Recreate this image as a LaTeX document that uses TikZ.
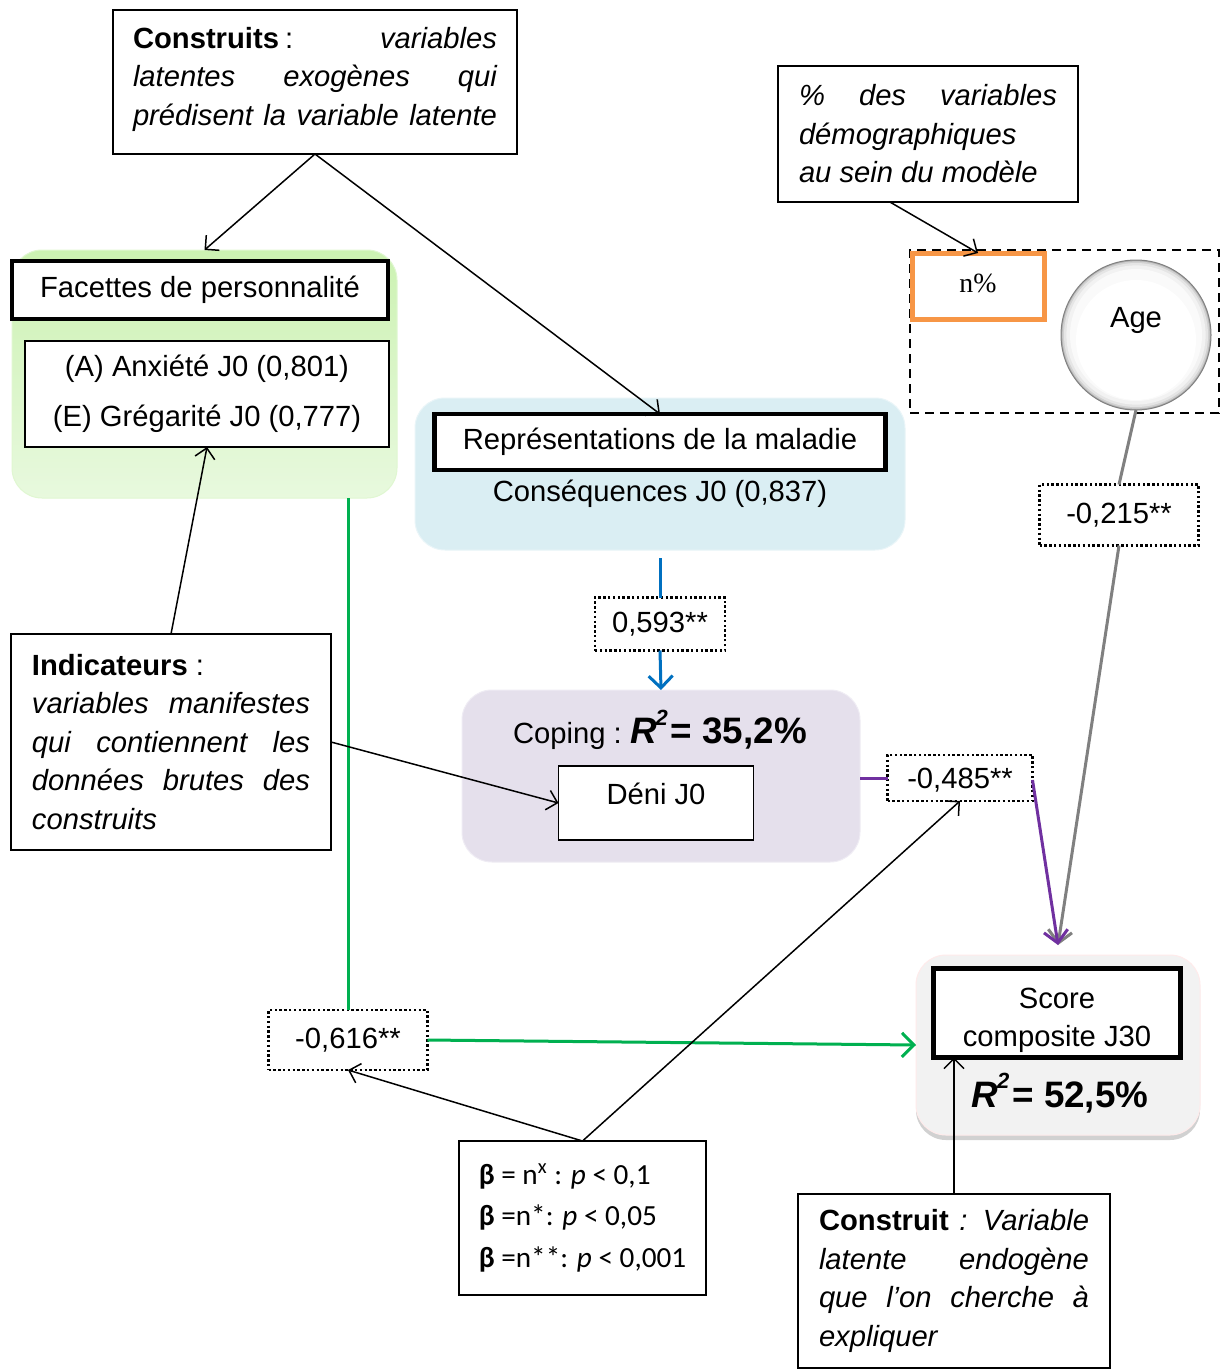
\documentclass[tikz,border=0pt]{standalone}
\usepackage{fontspec}
\setmainfont{Liberation Sans}
\newfontfamily\serifn{Liberation Serif}
\newfontfamily\calfont{Carlito}
\usetikzlibrary{arrows.meta,calc,shadows}
\newcommand\jline[2]{\makebox[#1][s]{#2}}
\newcommand\rbigfont{\fontsize{18.4}{22}\selectfont\bfseries}
\newcommand\rsq{{\rbigfont\itshape R\kern-0.5pt\raisebox{0.95ex}{\fontsize{11}{11}\selectfont 2}}}
\definecolor{cblue}{HTML}{0070C0}
\definecolor{cpurple}{HTML}{7030A0}
\definecolor{cgray}{HTML}{808080}
\definecolor{cgreen}{HTML}{00B050}
\definecolor{corange}{HTML}{F79646}
\definecolor{bgblue}{HTML}{DAEEF3}
\definecolor{bgpurple}{HTML}{E5E0EC}
\definecolor{bggray}{HTML}{F2F2F2}
\definecolor{greentop}{RGB}{204,242,178}
\definecolor{greenbot}{RGB}{232,249,222}
\begin{document}
\begin{tikzpicture}[x=0.5pt,y=-0.5pt,
  every node/.style={font=\fontsize{14.6}{19.25}\selectfont, inner sep=0pt, outer sep=0pt},
  note/.style={draw=black, line width=0.75pt, fill=white, align=left},
  latent/.style={draw=black, line width=2.2pt, fill=white, align=center},
  manif/.style={draw=black, line width=0.75pt, fill=white, align=center},
  coef/.style={draw=black, line width=1.2pt, dash pattern=on 1.2pt off 1.2pt, fill=white},
  area/.style={rounded corners=15pt},
  conn/.style={line width=0.75pt, -{Straight Barb[length=5pt,width=10pt]}},
  colline/.style={line width=1.5pt},
  colarr/.style={-{Straight Barb[length=6pt,width=12pt,line width=1.5pt]}}
]
\useasboundingbox (0,0) rectangle (1223,1371);
\fill[white] (0,0) rectangle (1223,1371);

% background areas
\node[area, top color=greentop, bottom color=greenbot, draw=greentop!60!white, line width=0.5pt,
      minimum width=192.5pt, minimum height=124pt] (greenbg) at (204.5,374) {};
\node[area, fill=bgblue, draw=bgblue!60!white, line width=0.5pt,
      minimum width=245pt, minimum height=76pt] (bluebg) at (660,474) {};
\node[area, fill=bgpurple, draw=bgpurple!60!white, line width=0.5pt,
      minimum width=199pt, minimum height=86pt] (purplebg) at (661,776) {};
\node[area, fill=bggray, draw=red!8, line width=0.5pt,
      drop shadow={shadow xshift=0pt, shadow yshift=-2.5pt, opacity=0.18, fill=black},
      minimum width=142pt, minimum height=90pt] (scorebg) at (1058,1045) {};
\node[draw=black, dash pattern=on 4.5pt off 3pt, line width=0.75pt,
      minimum width=154.5pt, minimum height=81.5pt] (demobox) at (1064.5,331.5) {};

% explanatory notes
\node[note, minimum width=202pt, minimum height=72pt] (construits) at (315,82)
  {\jline{182pt}{\textbf{Construits}\kern3pt:\hfill\textit{variables}}\\
   \jline{182pt}{\itshape latentes exogènes qui}\\
   \jline{182pt}{\itshape prédisent la variable latente}\\[-19pt]\strut};
\node[note, minimum width=150pt, minimum height=68pt] (demog) at (928,134)
  {\jline{129pt}{\itshape \% des variables}\\
   \textit{démographiques}\\
   \textit{au sein du modèle}};
\node[note, minimum width=160pt, minimum height=108pt] (indicat) at (171,742)
  {\textbf{Indicateurs} :\\
   \jline{139pt}{\itshape variables manifestes}\\
   \jline{139pt}{\itshape qui contiennent les}\\
   \jline{139pt}{\itshape données brutes des}\\
   \textit{construits}};
\node[note, minimum width=123.5pt, minimum height=77pt,
      font=\calfont\fontsize{14.6}{20.75}\selectfont] (legend) at (582.5,1218)
  {\textbf{β} = n\textsuperscript{x} : \textit{p} < 0,1\\
   \textbf{β} =n*: \textit{p} < 0,05\\
   \textbf{β} =n**: \textit{p} < 0,001};
\node[note, minimum width=156pt, minimum height=87pt] (construit) at (954,1281)
  {\jline{135pt}{\textbf{Construit}\textit{ : Variable}}\\
   \jline{135pt}{\itshape latente endogène}\\
   \jline{135pt}{\itshape que l’on cherche à}\\
   \textit{expliquer}};

% constructs
\node[latent, minimum width=188pt, minimum height=29pt] (facettes) at (200,290) {Facettes de personnalité};
\node[manif, minimum width=182pt, minimum height=53pt, font=\fontsize{14.6}{25}\selectfont] (ae) at (207,394)
  {(A) Anxiété J0 (0,801)\\(E) Grégarité J0 (0,777)};
\node[latent, minimum width=225.5pt, minimum height=28pt] (repr) at (660,442) {Représentations de la maladie};
\node (cons) at (660,494) {Conséquences J0 (0,837)};
\node (coping) at (660,730) {Coping :\ \rsq{\rbigfont\kern1.5pt= 35,2\%}};
\node[manif, minimum width=97.5pt, minimum height=37pt] (deni) at (656,803) {};
\node (denitext) at (656,794) {Déni J0};
\node[draw=corange, line width=2.5pt, fill=white, minimum width=66pt, minimum height=33pt,
      font=\serifn\fontsize{13.9}{16}\selectfont] (nbox) at (978,286) {n\%\rule[-3pt]{0pt}{3pt}};
% glassy age bubble
\fill[black!30] (1136,335) circle[radius=37.5pt];
\fill[black!18] (1136,335) circle[radius=36.8pt];
\fill[black!10] (1136,335) circle[radius=36pt];
\fill[black!5] (1136,335) circle[radius=34.8pt];
\fill[black!2] (1136,335) circle[radius=33pt];
\fill[white] (1136,340) circle[radius=30pt];
\node[circle, draw=black!50, line width=0.5pt, minimum size=75pt] (age) at (1136,335) {};
\node (agetext) at (1136,320) {Age};
\node[latent, minimum width=123.5pt, minimum height=44.5pt] (score) at (1057,1013) {\rule{0pt}{17.5pt}Score\\composite J30};
\node (r2score) at (1060,1093) {\rsq{\rbigfont\kern1.5pt= 52,5\%}};
\coordinate (scoretop) at (1058,945);

% coefficients
\node[coef, minimum width=65pt, minimum height=26.5pt] (l593) at (660,624) {0,593**};
\node[coef, minimum width=72.5pt, minimum height=23pt] (l485) at (960,778) {\rule{0pt}{12pt}-0,485**};
\node[coef, minimum width=79.5pt, minimum height=30.5pt] (l215) at (1119,515) {-0,215**};
\node[coef, minimum width=79.5pt, minimum height=30pt] (l616) at (348,1040) {-0,616**};

% coloured paths
\draw[colline, cblue] ($(bluebg.south)+(0,8)$) -- (l593.north);
\draw[colline, cblue, colarr] (l593.south) -- (purplebg.north);
\draw[colline, cpurple] (purplebg.east |- l485.west) -- (l485.west);
\draw[colline, cgray] (age.south) -- (l215.north);
\draw[colline, cgray, colarr] (l215.south) -- (scoretop);
\draw[colline, cpurple, colarr] ($(l485.east)+(0,2)$) -- (scoretop);
\draw[colline, cgreen] (l616.north |- greenbg.south) -- (l616.north);
\draw[colline, cgreen, colarr] (l616.east) -- (scorebg.west);

% annotation arrows
\draw[conn] (construits.south) -- (greenbg.north);
\draw[conn] (construits.south) -- (repr.north);
\draw[conn] ($(demog.south west)!0.373!(demog.south east)$) -- (nbox.north);
\draw[conn] (indicat.north) -- (ae.south);
\draw[conn] (indicat.east) -- (deni.west);
\draw[conn] (legend.north) -- (l616.south);
\draw[conn] (legend.north) -- (l485.south);
\draw[conn] (construit.north) -- (construit.north |- score.south);
\end{tikzpicture}
\end{document}
